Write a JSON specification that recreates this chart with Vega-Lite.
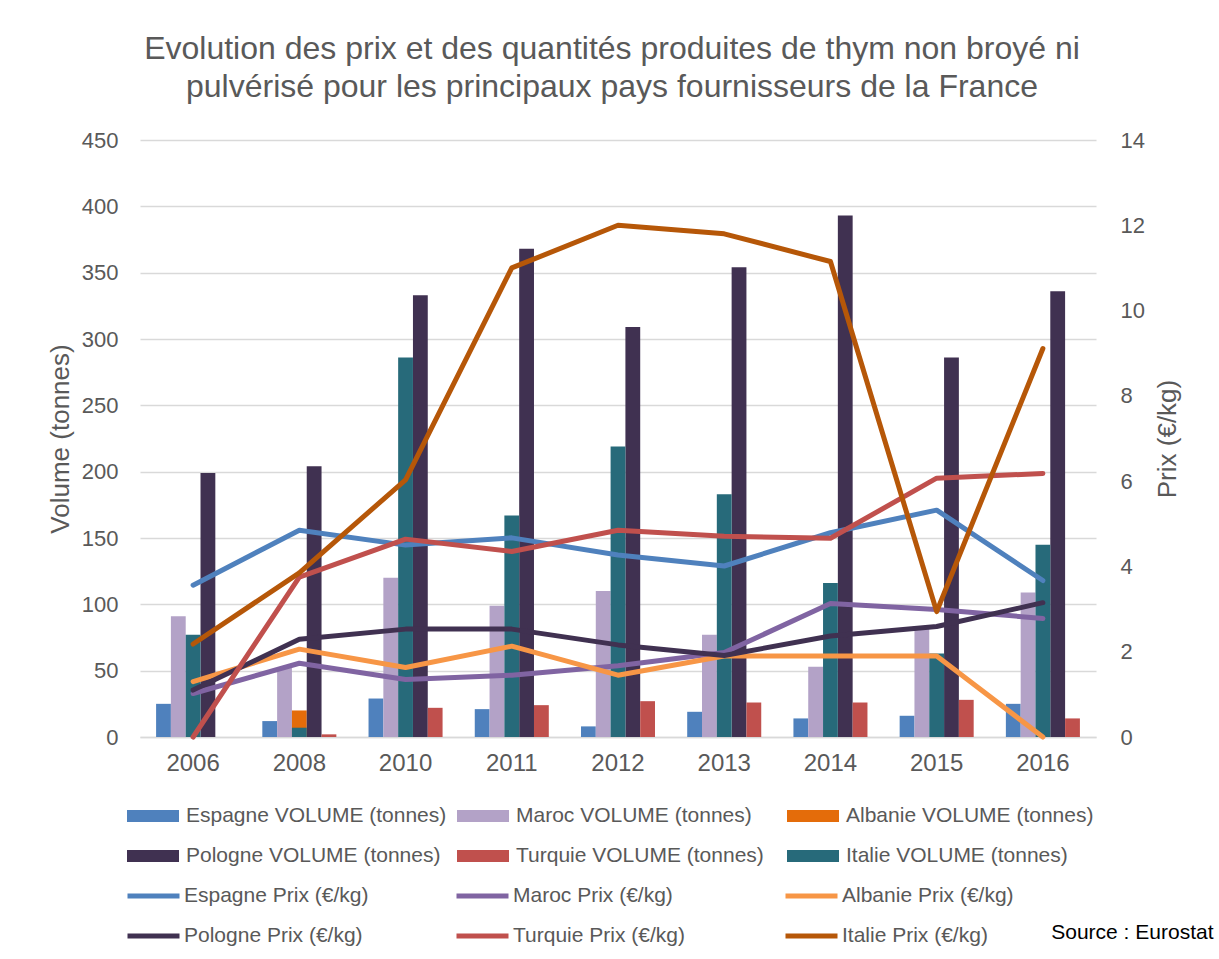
{
  "$schema": "https://vega.github.io/schema/vega-lite/v6.json",
  "width": 956,
  "height": 597,
  "autosize": {"type": "none"},
  "padding": {"left": 140, "top": 140, "right": 123, "bottom": 222},
  "background": "white",
  "title": {
    "text": ["Evolution des prix et des quantités produites de thym non broyé ni", "pulvérisé pour les principaux pays fournisseurs de la France"],
    "fontSize": 32,
    "font": "Liberation Sans",
    "fontWeight": "normal",
    "color": "#595959",
    "anchor": "middle",
    "lineHeight": 38,
    "offset": 0,
    "baseline": "alphabetic",
    "dx": -6
  },
  "data": {
    "values": [
      {"year": "2006", "country": "Espagne", "volume": 25, "prix": 3.56},
      {"year": "2008", "country": "Espagne", "volume": 12, "prix": 4.85},
      {"year": "2010", "country": "Espagne", "volume": 29, "prix": 4.5},
      {"year": "2011", "country": "Espagne", "volume": 21, "prix": 4.67},
      {"year": "2012", "country": "Espagne", "volume": 8, "prix": 4.27},
      {"year": "2013", "country": "Espagne", "volume": 19, "prix": 4.01},
      {"year": "2014", "country": "Espagne", "volume": 14, "prix": 4.79},
      {"year": "2015", "country": "Espagne", "volume": 16, "prix": 5.32},
      {"year": "2016", "country": "Espagne", "volume": 25, "prix": 3.67},
      {"year": "2006", "country": "Maroc", "volume": 91, "prix": 1.02},
      {"year": "2008", "country": "Maroc", "volume": 52, "prix": 1.73},
      {"year": "2010", "country": "Maroc", "volume": 120, "prix": 1.35},
      {"year": "2011", "country": "Maroc", "volume": 99, "prix": 1.45},
      {"year": "2012", "country": "Maroc", "volume": 110, "prix": 1.67},
      {"year": "2013", "country": "Maroc", "volume": 77, "prix": 1.98},
      {"year": "2014", "country": "Maroc", "volume": 53, "prix": 3.13},
      {"year": "2015", "country": "Maroc", "volume": 82, "prix": 2.99},
      {"year": "2016", "country": "Maroc", "volume": 109, "prix": 2.78},
      {"year": "2006", "country": "Albanie", "volume": null, "prix": 1.3},
      {"year": "2008", "country": "Albanie", "volume": 20, "prix": 2.06},
      {"year": "2010", "country": "Albanie", "volume": null, "prix": 1.63},
      {"year": "2011", "country": "Albanie", "volume": null, "prix": 2.13},
      {"year": "2012", "country": "Albanie", "volume": null, "prix": 1.45},
      {"year": "2013", "country": "Albanie", "volume": null, "prix": 1.9},
      {"year": "2014", "country": "Albanie", "volume": null, "prix": 1.9},
      {"year": "2015", "country": "Albanie", "volume": null, "prix": 1.9},
      {"year": "2016", "country": "Albanie", "volume": null, "prix": 0},
      {"year": "2006", "country": "Pologne", "volume": 199, "prix": 1.1},
      {"year": "2008", "country": "Pologne", "volume": 204, "prix": 2.29},
      {"year": "2010", "country": "Pologne", "volume": 333, "prix": 2.53},
      {"year": "2011", "country": "Pologne", "volume": 368, "prix": 2.53},
      {"year": "2012", "country": "Pologne", "volume": 309, "prix": 2.16},
      {"year": "2013", "country": "Pologne", "volume": 354, "prix": 1.91},
      {"year": "2014", "country": "Pologne", "volume": 393, "prix": 2.37},
      {"year": "2015", "country": "Pologne", "volume": 286, "prix": 2.59},
      {"year": "2016", "country": "Pologne", "volume": 336, "prix": 3.15},
      {"year": "2006", "country": "Turquie", "volume": null, "prix": 0},
      {"year": "2008", "country": "Turquie", "volume": 2, "prix": 3.75},
      {"year": "2010", "country": "Turquie", "volume": 22, "prix": 4.64},
      {"year": "2011", "country": "Turquie", "volume": 24, "prix": 4.35},
      {"year": "2012", "country": "Turquie", "volume": 27, "prix": 4.85},
      {"year": "2013", "country": "Turquie", "volume": 26, "prix": 4.71},
      {"year": "2014", "country": "Turquie", "volume": 26, "prix": 4.66},
      {"year": "2015", "country": "Turquie", "volume": 28, "prix": 6.07},
      {"year": "2016", "country": "Turquie", "volume": 14, "prix": 6.18},
      {"year": "2006", "country": "Italie", "volume": 77, "prix": 2.18},
      {"year": "2008", "country": "Italie", "volume": 7, "prix": 3.85},
      {"year": "2010", "country": "Italie", "volume": 286, "prix": 6.03},
      {"year": "2011", "country": "Italie", "volume": 167, "prix": 11.0},
      {"year": "2012", "country": "Italie", "volume": 219, "prix": 12.0},
      {"year": "2013", "country": "Italie", "volume": 183, "prix": 11.8},
      {"year": "2014", "country": "Italie", "volume": 116, "prix": 11.15},
      {"year": "2015", "country": "Italie", "volume": 63, "prix": 2.94},
      {"year": "2016", "country": "Italie", "volume": 145, "prix": 9.11}
    ]
  },
  "layer": [
    {
      "layer": [
        {
          "transform": [{"filter": "datum.country !== 'Italie'"}],
          "mark": {"type": "bar"},
          "encoding": {
            "x": {
              "field": "year",
              "type": "nominal",
              "sort": "ascending",
              "scale": {"paddingInner": 0.303, "paddingOuter": 0.1515},
              "axis": {
                "title": "Source : Eurostat",
                "titleX": 1073,
                "titleY": 201,
                "titleAlign": "right",
                "titleAnchor": null,
                "titleBaseline": "alphabetic",
                "titleFontSize": 21,
                "titleColor": "#000000",
                "titleAngle": 0,
                "labelFontSize": 24,
                "labelPadding": 14,
                "labelAngle": 0,
                "ticks": false,
                "domain": true,
                "domainColor": "#d9d9d9",
                "domainWidth": 1.5,
                "grid": false
              }
            },
            "xOffset": {
              "field": "country",
              "type": "nominal",
              "scale": {"domain": ["Espagne", "Maroc", "Albanie", "Pologne", "Turquie"], "paddingInner": 0, "paddingOuter": 0}
            },
            "y": {
              "field": "volume",
              "type": "quantitative",
              "scale": {"domain": [0, 450]},
              "axis": {
                "title": "Volume (tonnes)",
                "orient": "left",
                "values": [0, 50, 100, 150, 200, 250, 300, 350, 400, 450],
                "labelFontSize": 22,
                "labelPadding": 22,
                "titleFontSize": 26,
                "titlePadding": 8,
                "ticks": false,
                "domain": false,
                "grid": true,
                "gridColor": "#d9d9d9",
                "gridWidth": 1.4
              }
            },
            "fill": {
              "field": "country",
              "type": "nominal",
              "scale": {
                "domain": ["Espagne", "Maroc", "Albanie", "Pologne", "Turquie", "Italie"],
                "range": ["#4f81bd", "#b3a2c7", "#e46c0a", "#403151", "#c0504d", "#276a7a"]
              },
              "legend": {
                "orient": "none",
                "legendX": -13,
                "legendY": 665,
                "columns": 3,
                "direction": "horizontal",
                "values": ["Espagne", "Maroc", "Albanie", "Pologne", "Turquie", "Italie"],
                "title": null,
                "symbolType": "M-1,-0.23H1V0.23H-1Z",
                "symbolSize": 2704,
                "symbolStrokeWidth": 0,
                "symbolOpacity": 1,
                "labelFontSize": 21,
                "labelColor": "#595959",
                "labelOffset": 7,
                "labelLimit": 500,
                "columnPadding": 10,
                "rowPadding": 18,
                "clipHeight": 22,
                "gridAlign": "all",
                "padding": 0,
                "labelExpr": "datum.label + ' VOLUME (tonnes)'"
              }
            }
          }
        },
        {
          "transform": [{"filter": "datum.country === 'Italie'"}],
          "mark": {"type": "bar"},
          "encoding": {
            "x": {"field": "year", "type": "nominal", "sort": "ascending"},
            "xOffset": {"datum": "Albanie", "type": "nominal"},
            "y": {"field": "volume", "type": "quantitative"},
            "fill": {"field": "country", "type": "nominal"}
          }
        }
      ]
    },
    {
      "mark": {"type": "line", "strokeWidth": 5, "strokeCap": "round", "strokeJoin": "round"},
      "encoding": {
        "x": {"field": "year", "type": "nominal", "sort": "ascending"},
        "y": {
          "field": "prix",
          "type": "quantitative",
          "scale": {"domain": [0, 14]},
          "axis": {
            "title": "Prix (€/kg)",
            "orient": "right",
            "values": [0, 2, 4, 6, 8, 10, 12, 14],
            "labelFontSize": 22,
            "labelPadding": 24,
            "titleFontSize": 26,
            "titlePadding": 10,
            "titleAngle": 270,
            "titleBaseline": "top",
            "ticks": false,
            "domain": false,
            "grid": false
          }
        },
        "stroke": {
          "field": "country",
          "type": "nominal",
          "scale": {
            "domain": ["Italie", "Turquie", "Pologne", "Albanie", "Maroc", "Espagne"],
            "range": ["#b65708", "#c0504d", "#403151", "#f79646", "#8064a2", "#4f81bd"]
          },
          "legend": {
            "orient": "none",
            "legendX": -15,
            "legendY": 745,
            "columns": 3,
            "direction": "horizontal",
            "values": ["Espagne", "Maroc", "Albanie", "Pologne", "Turquie", "Italie"],
            "title": null,
            "symbolType": "M-1,0H1",
            "symbolSize": 2704,
            "symbolStrokeWidth": 5,
            "labelFontSize": 21,
            "labelColor": "#595959",
            "labelOffset": 2,
            "labelLimit": 500,
            "columnPadding": 85,
            "rowPadding": 18,
            "clipHeight": 22,
            "gridAlign": "all",
            "padding": 0,
            "labelExpr": "datum.label + ' Prix (€/kg)'"
          }
        }
      }
    }
  ],
  "resolve": {"scale": {"y": "independent"}},
  "config": {
    "font": "Liberation Sans",
    "view": {"stroke": null},
    "axis": {
      "labelFont": "Liberation Sans",
      "titleFont": "Liberation Sans",
      "labelColor": "#595959",
      "titleColor": "#595959",
      "titleFontWeight": "normal"
    },
    "legend": {"labelFont": "Liberation Sans"}
  }
}
